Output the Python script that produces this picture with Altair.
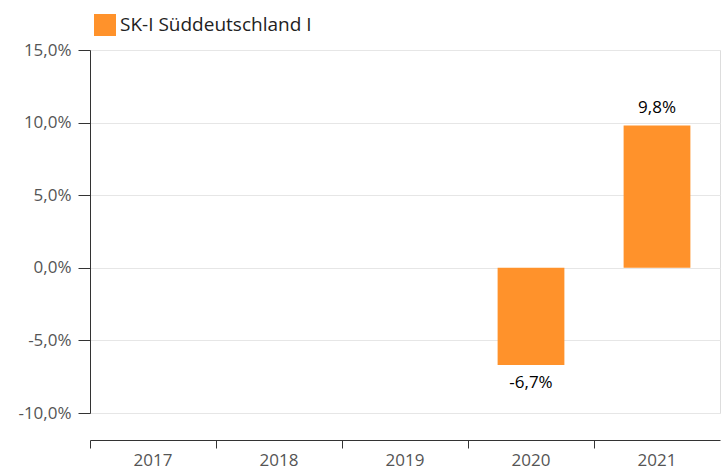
import altair as alt
import pandas as pd

years = ["2017", "2018", "2019", "2020", "2021"]
values = [None, None, None, -6.7, 9.8]
series = "SK-I Süddeutschland I"

df = pd.DataFrame({"year": years, "value": values})
df["series"] = series
df["label"] = [None if v is None else (f"{v:.1f}".replace(".", ",") + "%") for v in values]
bars_df = df.dropna(subset=["value"])

FONT = "Open Sans"
ORANGE = "#FF922B"

xscale = alt.Scale(domain=years, paddingInner=0, paddingOuter=0)
x_enc = alt.X("year:N", sort=years, title=None, scale=xscale,
              axis=alt.Axis(labelAngle=0, bandPosition=0, offset=27, tickSize=8,
                            labelFontSize=17, labelColor="#555555", labelFont=FONT,
                            labelPadding=4, domainColor="#333333", tickColor="#333333",
                            labelBound=False, grid=False))

bars = alt.Chart(bars_df).mark_bar(color=ORANGE, width=alt.RelativeBandSize(0.53)).encode(
    x=x_enc,
    y=alt.Y("value:Q", title=None,
            scale=alt.Scale(domain=[-10, 15], nice=False, zero=True),
            axis=alt.Axis(values=[-10, -5, 0, 5, 10, 15], tickSize=12, labelPadding=7,
                          labelFontSize=17, labelColor="#555555", labelFont=FONT,
                          domainColor="#333333", tickColor="#333333",
                          gridColor="#e6e6e6",
                          labelExpr="replace(replace(format(datum.value, '.1f'), '.', ','), '\u2212', '-') + '%'")),
    color=alt.Color("series:N", scale=alt.Scale(domain=[series], range=[ORANGE]),
                    legend=alt.Legend(title=None, orient="none", legendX=4, legendY=-36,
                                      symbolType="square", symbolSize=484,
                                      symbolStrokeWidth=0, symbolOpacity=1,
                                      labelFontSize=19, labelColor="#222222",
                                      labelFont=FONT, labelLimit=400)),
)

pos = alt.Chart(bars_df[bars_df["value"] > 0]).mark_text(
    font=FONT, fontSize=17, color="#000000", dy=-18, fontWeight=500
).encode(x=alt.X("year:N", sort=years, scale=xscale), y="value:Q", text="label:N")

neg = alt.Chart(bars_df[bars_df["value"] < 0]).mark_text(
    font=FONT, fontSize=17, color="#000000", dy=18, fontWeight=500
).encode(x=alt.X("year:N", sort=years, scale=xscale), y="value:Q", text="label:N")

chart = alt.layer(bars, pos, neg).properties(
    width=630, height=363,
    autosize=alt.AutoSizeParams(type="none"),
    padding={"left": 90, "top": 50, "right": 1, "bottom": 57},
).configure_view(stroke=None).configure(background="white")

chart.save("out.html", embed_options={"renderer": "svg", "actions": False})
